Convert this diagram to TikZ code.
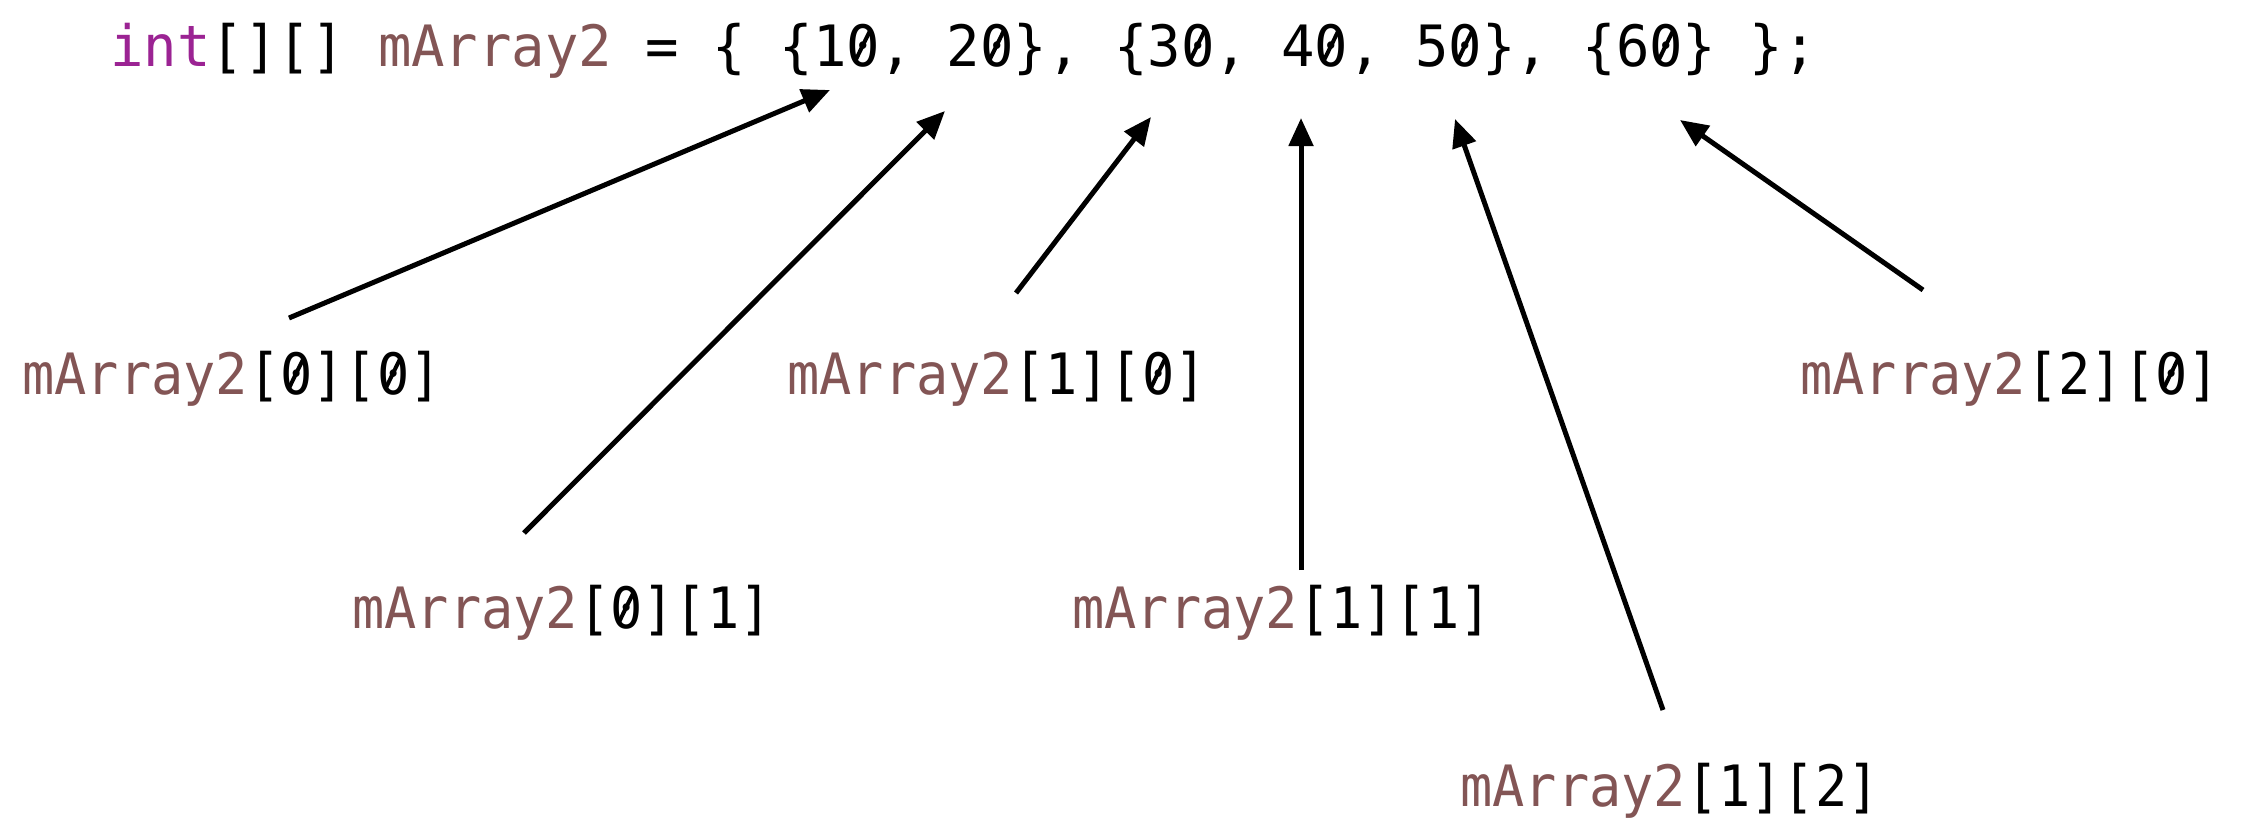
\documentclass[tikz,border=0pt]{standalone}
\usepackage{fontspec}
\usepackage{graphicx}
\setmonofont{DejaVu Sans Mono}
\newfontfamily\codefont[FakeStretch=0.975]{DejaVu Sans Mono}
\newfontfamily\lblfont[FakeStretch=0.94]{DejaVu Sans Mono}
\usetikzlibrary{arrows.meta}
\definecolor{kw}{HTML}{9B2393}
\definecolor{vr}{HTML}{835555}
\newcommand{\zr}{{\ooalign{0\cr\hidewidth\raisebox{0.1em}{\rotatebox{64}{\rule{0.58em}{0.07em}}}\hidewidth\cr}}}
\begin{document}
\begin{tikzpicture}[x=0.5pt,y=-0.5pt,
  code/.style={anchor=base west,inner sep=0pt,font=\codefont\fontsize{28.5}{34}\selectfont},
  lbl/.style={anchor=base west,inner sep=0pt,font=\lblfont\fontsize{28.5}{34}\selectfont},
  arr/.style={-{Triangle[length=14pt,width=12pt]},line width=2.5pt}]
\useasboundingbox (0,0) rectangle (2241,819);
\node[code] (code) at (110,66) {\textcolor{kw}{int}[][] \textcolor{vr}{mArray2} = \{ \{1\zr, 2\zr\}, \{3\zr, 4\zr, 5\zr\}, \{6\zr\} \};};
\node[lbl] (l00) at (22,394) {\textcolor{vr}{mArray2}[\zr][\zr]};
\node[lbl] (l10) at (787,394) {\textcolor{vr}{mArray2}[1][\zr]};
\node[lbl] (l20) at (1800,394) {\textcolor{vr}{mArray2}[2][\zr]};
\node[lbl] (l01) at (352,628) {\textcolor{vr}{mArray2}[\zr][1]};
\node[lbl] (l11) at (1072,628) {\textcolor{vr}{mArray2}[1][1]};
\node[lbl] (l12) at (1460,806) {\textcolor{vr}{mArray2}[1][2]};
\coordinate (s00) at (289,318); \coordinate (e00) at (830,90);
\coordinate (s01) at (524,533); \coordinate (e01) at (945,111);
\coordinate (s10) at (1016,293); \coordinate (e10) at (1151,117);
\coordinate (s11) at (1301,570); \coordinate (e11) at (1301,118);
\coordinate (s12) at (1663,710); \coordinate (e12) at (1455,119);
\coordinate (s20) at (1923,290); \coordinate (e20) at (1680,120);
\draw[arr] (s00) -- (e00);
\draw[arr] (s01) -- (e01);
\draw[arr] (s10) -- (e10);
\draw[arr] (s11) -- (e11);
\draw[arr] (s12) -- (e12);
\draw[arr] (s20) -- (e20);
\end{tikzpicture}
\end{document}
